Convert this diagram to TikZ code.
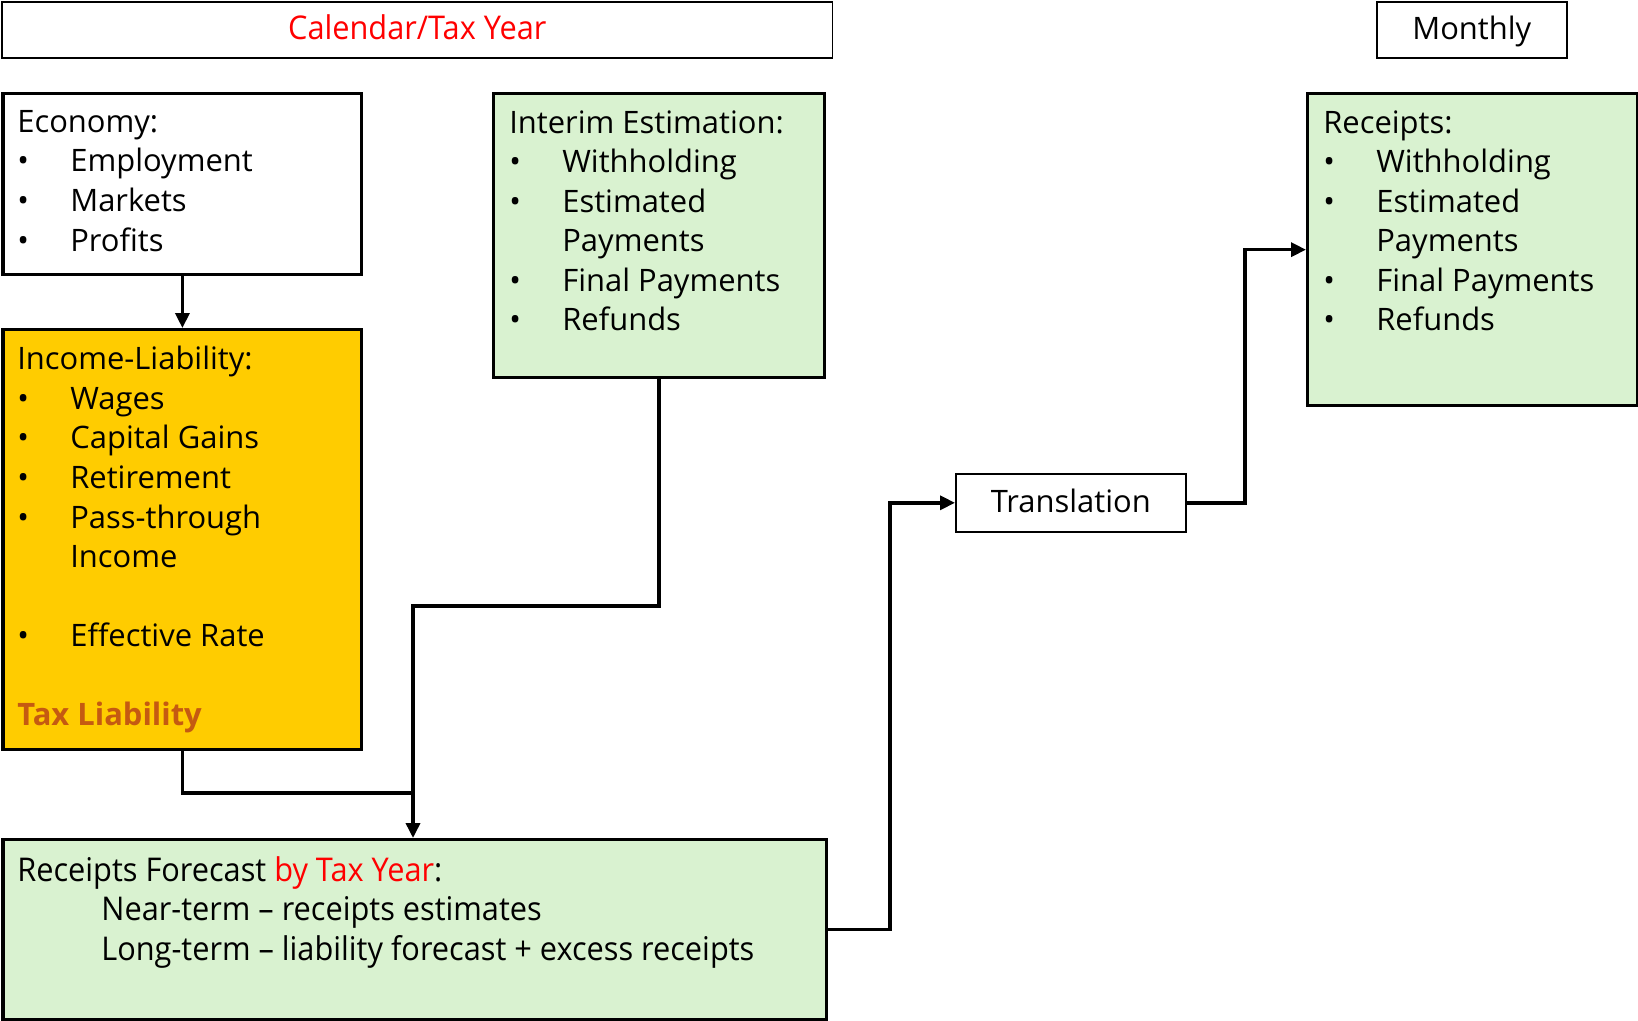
\documentclass[tikz,border=0pt]{standalone}
\usepackage{fontspec}
\setmainfont{Open Sans}
\newfontfamily\narrowfont[FakeStretch=0.94]{Open Sans}
\usetikzlibrary{arrows.meta}

\definecolor{boxgreen}{HTML}{D9F2D0}
\definecolor{boxyellow}{HTML}{FFCC00}
\definecolor{liabcol}{HTML}{C55A11}

\newcommand{\itm}[1]{\makebox[1.06cm][l]{\textbullet}#1}
\newcommand{\cont}[1]{\hspace*{1.06cm}#1}

\begin{document}
\begin{tikzpicture}[
  font=\fontsize{17.6}{22.5}\selectfont,
  frame/.style={draw, rectangle, anchor=north west, inner sep=0pt, line width=1.9pt},
  thinframe/.style={frame, line width=0.9pt, fill=white, text height=0.48cm, text depth=0.09cm},
  wbox/.style={frame, fill=white},
  gbox/.style={frame, fill=boxgreen},
  ybox/.style={frame, fill=boxyellow},
  narrow/.style={font=\narrowfont\fontsize{18.6}{22.5}\selectfont},
  txt/.style={anchor=north west, inner sep=0pt, align=left},
  conn/.style={line width=2pt},
  arr/.style={conn, -{Triangle[length=0.3cm,width=0.28cm]}}
]
\useasboundingbox (0,0) rectangle (32.76,-20.4);

% headers
\node[thinframe, narrow, text=red, minimum width=16.6cm, minimum height=1.12cm] (cal) at (0.03,-0.02) {Calendar/Tax Year};
\node[thinframe, minimum width=3.8cm, minimum height=1.12cm] (mon) at (27.52,-0.02) {Monthly};

% boxes
\node[wbox, minimum width=7.17cm, minimum height=3.62cm] (eco) at (0.03,-1.84) {};
\node[ybox, minimum width=7.17cm, minimum height=8.4cm] (inc) at (0.03,-6.56) {};
\node[gbox, minimum width=6.62cm, minimum height=5.68cm] (intr) at (9.84,-1.84) {};
\node[gbox, minimum width=6.6cm, minimum height=6.24cm] (rcpt) at (26.12,-1.84) {};
\node[thinframe, minimum width=4.6cm, minimum height=1.16cm] (trans) at (19.1,-9.46) {Translation};
\node[gbox, minimum width=16.47cm, minimum height=3.6cm] (fcst) at (0.03,-16.76) {};

% box texts
\node[txt] (ecot) at ([shift={(0.31,-0.36)}]eco.north west) {Economy:\\
  \itm{Employment}\\ \itm{Markets}\\ \itm{Profits}};
\node[txt] (inct) at ([shift={(0.31,-0.36)}]inc.north west) {Income-Liability:\\
  \itm{Wages}\\ \itm{Capital Gains}\\ \itm{Retirement}\\ \itm{Pass-through}\\ \cont{Income}\\ \mbox{}\\
  \itm{Effective Rate}\\ \mbox{}\\ \textcolor{liabcol}{\bfseries Tax Liability}};
\node[txt] (intrt) at ([shift={(0.34,-0.36)}]intr.north west) {Interim Estimation:\\
  \itm{Withholding}\\ \itm{Estimated}\\ \cont{Payments}\\ \itm{Final Payments}\\ \itm{Refunds}};
\node[txt] (rcptt) at ([shift={(0.34,-0.36)}]rcpt.north west) {Receipts:\\
  \itm{Withholding}\\ \itm{Estimated}\\ \cont{Payments}\\ \itm{Final Payments}\\ \itm{Refunds}};
\node[txt, narrow] (fcstt) at ([shift={(0.31,-0.36)}]fcst.north west) {Receipts Forecast \textcolor{red}{by Tax Year}:\\
  \hspace*{1.68cm}Near-term \textendash{} receipts estimates\\
  \hspace*{1.68cm}Long-term \textendash{} liability forecast + excess receipts};

% connectors
\coordinate (split) at (8.26,-12.12);
\coordinate (merge) at (8.26,-15.86);
\coordinate (up1) at (17.8,-14);
\coordinate (up2) at (24.9,-7);
\draw[arr] (eco.south) -- (inc.north);
\draw[arr] (intr.south) |- (split) -- (split |- fcst.north);
\draw[conn] (inc.south) |- (merge);
\draw[arr] (fcst.east) -| (up1) |- (trans.west);
\draw[arr] (trans.east) -| (up2) |- (rcpt.west);
\end{tikzpicture}
\end{document}
